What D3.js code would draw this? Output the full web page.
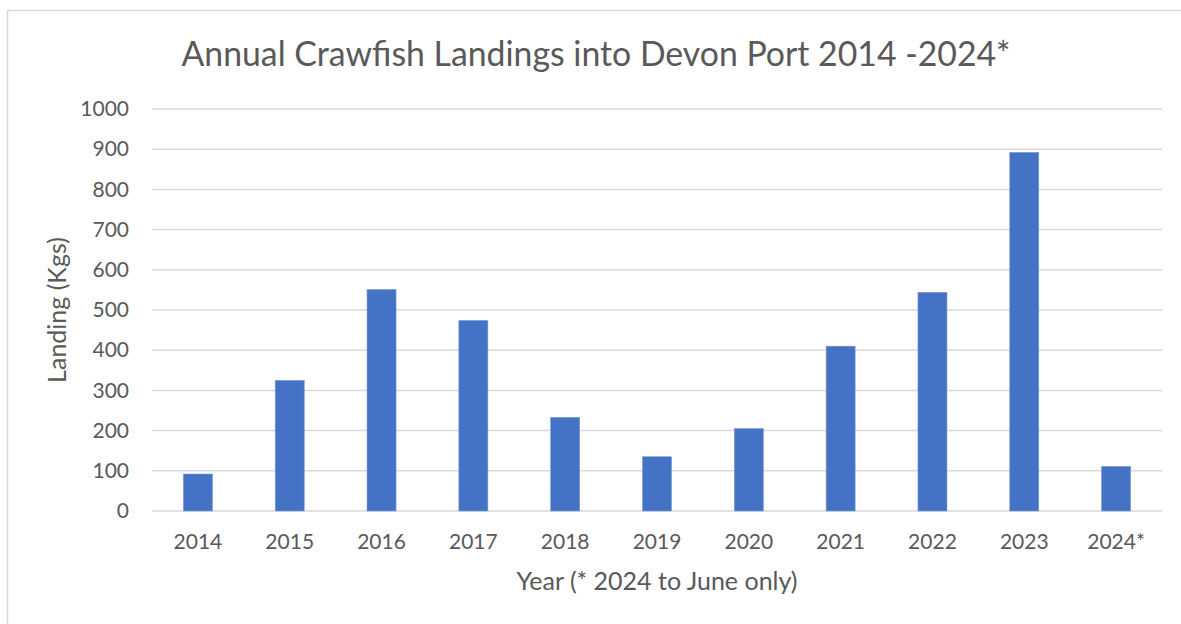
<!DOCTYPE html>
<html>
<head>
<meta charset="utf-8">
<script src="https://cdn.jsdelivr.net/npm/d3@7"></script>
<style>
  body { margin: 0; background: #fff; }
  text { font-family: Lato, "Liberation Sans", sans-serif; fill: #595959; }
</style>
</head>
<body>
<div id="chart"></div>
<script>
// data
var years = ["2014", "2015", "2016", "2017", "2018", "2019", "2020", "2021", "2022", "2023", "2024*"];
var landings = [92, 325, 551, 474, 233, 135, 205, 410, 544, 892, 111];
var yTicks = [0, 100, 200, 300, 400, 500, 600, 700, 800, 900, 1000];

var width = 1181, height = 624;
var m = { top: 109, right: 19, bottom: 113, left: 152 };
var w = width - m.left - m.right,
    h = height - m.top - m.bottom;

var svg = d3.select("#chart").append("svg")
    .attr("width", width)
    .attr("height", height);

// chart frame
svg.append("rect")
    .attr("x", 7.5).attr("y", 10.5)
    .attr("width", width + 20).attr("height", height + 20)
    .attr("fill", "none")
    .attr("stroke", "#d9d9d9")
    .attr("stroke-width", 1.5);

var g = svg.append("g").attr("transform", "translate(" + m.left + "," + m.top + ")");

var x = d3.scaleBand().domain(years).range([0, w]);
var y = d3.scaleLinear().domain([0, 1000]).range([h, 0]);

// gridlines
g.selectAll(".grid")
    .data(yTicks)
    .enter().append("line")
    .attr("class", "grid")
    .attr("x1", 0).attr("x2", w)
    .attr("y1", function(d) { return y(d); })
    .attr("y2", function(d) { return y(d); })
    .attr("stroke", "#d9d9d9")
    .attr("stroke-width", 1.5);

// y tick labels
var yAxis = g.append("g")
    .call(d3.axisLeft(y).tickValues(yTicks).tickFormat(d3.format("d")).tickSize(0).tickPadding(23));
yAxis.select(".domain").remove();
yAxis.selectAll("text")
    .style("font-size", "21px")
    .attr("fill", "#595959");

// bars
var barW = x.bandwidth() * 0.316;
g.selectAll(".bar")
    .data(landings)
    .enter().append("rect")
    .attr("class", "bar")
    .attr("x", function(d, i) { return x(years[i]) + (x.bandwidth() - barW) / 2; })
    .attr("y", function(d) { return y(d); })
    .attr("width", barW)
    .attr("height", function(d) { return h - y(d); })
    .attr("fill", "#4472c4")
    .attr("stroke", "#7a9bd6")
    .attr("stroke-width", 0.6);

// x tick labels
var xAxis = g.append("g")
    .attr("transform", "translate(0," + h + ")")
    .call(d3.axisBottom(x).tickSize(0).tickPadding(23));
xAxis.select(".domain").remove();
xAxis.selectAll("text")
    .style("font-size", "21px")
    .attr("fill", "#595959");

// titles
svg.append("text")
    .attr("x", m.left + w / 2 - 61)
    .attr("y", 66)
    .attr("text-anchor", "middle")
    .style("font-size", "33.8px")
    .text("Annual Crawfish Landings into Devon Port 2014 -2024*");

svg.append("text")
    .attr("x", m.left + w / 2)
    .attr("y", 590)
    .attr("text-anchor", "middle")
    .style("font-size", "25px")
    .text("Year (* 2024 to June only)");

svg.append("text")
    .attr("transform", "translate(66," + (m.top + h / 2) + ") rotate(-90)")
    .attr("text-anchor", "middle")
    .style("font-size", "25px")
    .text("Landing (Kgs)");
</script>
</body>
</html>
